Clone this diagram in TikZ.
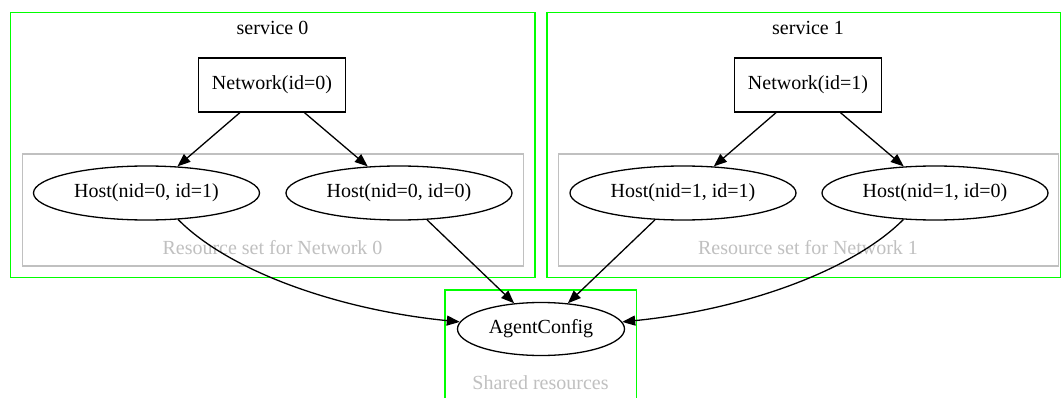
\documentclass[tikz,border=0pt]{standalone}
\usepackage{fontspec}
\setmainfont{Liberation Serif}
\usetikzlibrary{arrows.meta,shapes.geometric}
\definecolor{gvgreen}{HTML}{00FF00}
\definecolor{gvgray}{HTML}{C0C0C0}
\begin{document}
\begin{tikzpicture}[x=1pt,y=-1pt,
  font=\fontsize{20}{24}\selectfont,
  cluster/.style={draw=gvgreen,line width=1.4pt},
  resset/.style={draw=gvgray,line width=1.4pt},
  netbox/.style={draw,line width=1.3pt,rectangle,minimum width=147pt,minimum height=54pt,inner sep=0pt},
  hostnode/.style={draw,line width=1.3pt,ellipse,minimum width=226pt,minimum height=54pt,inner sep=0pt},
  graylabel/.style={text=gvgray,inner sep=0pt},
  edge/.style={draw,line width=1.3pt,-{Triangle[length=13pt,width=10pt]}}
]
\clip (0,0) rectangle (1062,398);
\fill[white] (0,0) rectangle (1062,398);
% clusters
\draw[cluster] (10.5,12.5) rectangle (535,277.5);
\draw[cluster] (547,12.5) rectangle (1060.5,277.5);
\draw[cluster] (445,290) rectangle (636.5,420);
\draw[resset] (22.5,154) rectangle (523.5,266);
\draw[resset] (558.5,154) rectangle (1058.5,266);
% labels
\node[inner sep=0pt] (s0) at (272.5,28) {service 0};
\node[inner sep=0pt] (s1) at (808,28) {service 1};
\node[graylabel] (r0) at (272.5,248) {Resource set for Network 0};
\node[graylabel] (r1) at (808,248) {Resource set for Network 1};
\node[graylabel] (sh) at (540.5,383) {Shared resources};
% nodes
\node[netbox] (n0) at (272,85) {Network(id=0)};
\node[netbox] (n1) at (808,85) {Network(id=1)};
\node[hostnode] (h01) at (146.5,193) {Host(nid=0, id=1)};
\node[hostnode] (h00) at (399,193) {Host(nid=0, id=0)};
\node[hostnode] (h11) at (683,193) {Host(nid=1, id=1)};
\node[hostnode] (h10) at (935,193) {Host(nid=1, id=0)};
\node[draw,line width=1.3pt,ellipse,minimum width=167pt,minimum height=53pt,inner sep=0pt] (ac) at (541,329) {AgentConfig};
% edges
\draw[edge] (n0) -- (h01);
\draw[edge] (n0) -- (h00);
\draw[edge] (n1) -- (h11);
\draw[edge] (n1) -- (h10);
\draw[edge] (h00) -- (ac);
\draw[edge] (h11) -- (ac);
\draw[edge] (h01.-40) .. controls (230,272) and (340,310) .. (ac.175);
\draw[edge] (h10.-140) .. controls (851,272) and (741,310) .. (ac.5);
\end{tikzpicture}
\end{document}
